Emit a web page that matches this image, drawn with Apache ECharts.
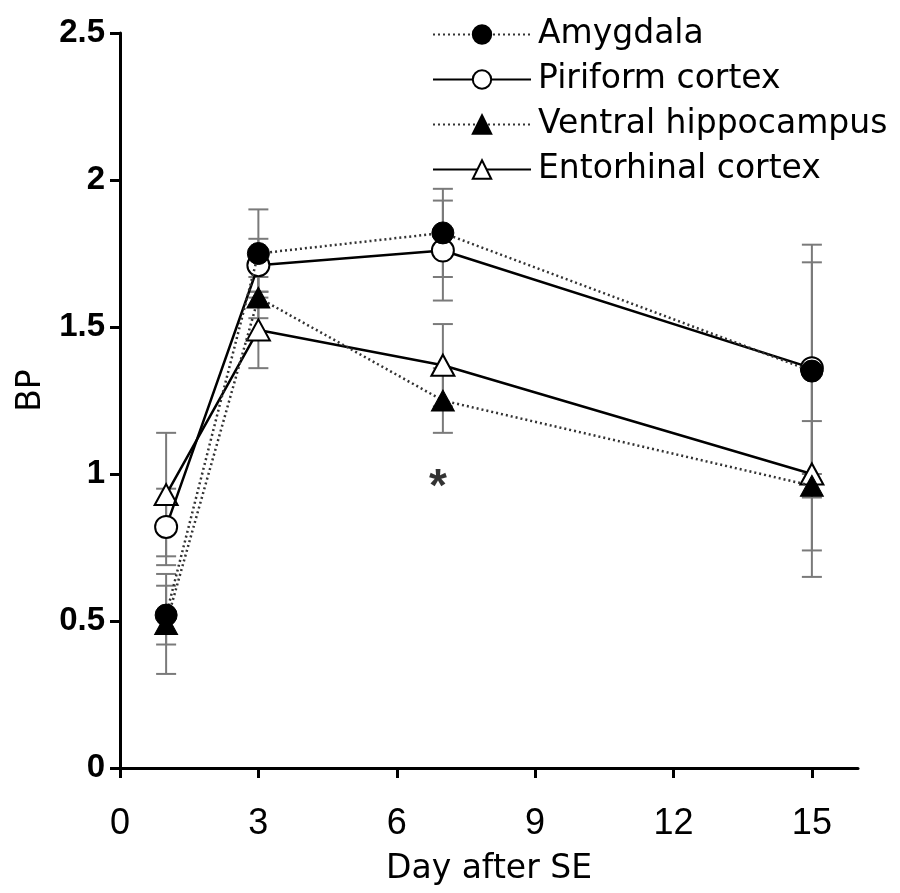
<!DOCTYPE html>
<html><head><meta charset="utf-8">
<script src="https://cdn.jsdelivr.net/npm/echarts@6/dist/echarts.min.js"></script>
<style>html,body{margin:0;padding:0;background:#fff}#c{width:900px;height:893px}</style>
</head><body><div id="c"></div>
<script>
const days = [1, 3, 7, 15];
const seriesNames = ['Amygdala', 'Piriform cortex', 'Ventral hippocampus', 'Entorhinal cortex'];
const amygdala = [0.52, 1.75, 1.82, 1.35];
const amygdalaErr = [0.10, 0.15, 0.15, 0.43];
const piriform = [0.82, 1.71, 1.76, 1.36];
const piriformErr = [0.13, 0.09, 0.17, 0.36];
const ventral = [0.49, 1.60, 1.25, 0.96];
const ventralErr = [0.17, 0.07, 0.11, 0.22];
const entorhinal = [0.93, 1.49, 1.37, 1.00];
const entorhinalErr = [0.21, 0.13, 0.14, 0.35];
const xTicks = [0, 3, 6, 9, 12, 15];
const yTicks = [0, 0.5, 1, 1.5, 2, 2.5];
const asterisk = [[7, 0.99]];

const FONT = 'DejaVu Sans';
const chart = echarts.init(document.getElementById('c'), null, {renderer: 'canvas'});

function pts(vals) { return days.map((d, i) => [d, vals[i]]); }
function errs(vals, e) { return days.map((d, i) => [d, vals[i] - e[i], vals[i] + e[i]]); }

function errRender(params, api) {
  const x = api.value(0), lo = api.value(1), hi = api.value(2);
  const pLo = api.coord([x, lo]), pHi = api.coord([x, hi]);
  const w = 10;
  const style = {stroke: '#7a7a7a', lineWidth: 2, fill: null};
  return {type: 'group', children: [
    {type: 'line', shape: {x1: pLo[0], y1: pLo[1], x2: pHi[0], y2: pHi[1]}, style: style},
    {type: 'line', shape: {x1: pLo[0] - w, y1: pLo[1], x2: pLo[0] + w, y2: pLo[1]}, style: style},
    {type: 'line', shape: {x1: pHi[0] - w, y1: pHi[1], x2: pHi[0] + w, y2: pHi[1]}, style: style}
  ]};
}

function errSeries(vals, e) {
  return {type: 'custom', renderItem: errRender, data: errs(vals, e), z: 1, silent: true,
    encode: {x: 0, y: [1, 2]}};
}

const dotted = {color: '#333', width: 2.5, type: [2, 3]};
const solid = {color: '#000', width: 2.5, type: 'solid'};

const option = {
  animation: false,
  backgroundColor: '#fff',
  grid: {left: 120, right: 42, top: 33, bottom: 125, containLabel: false},
  legend: {
    data: seriesNames,
    orient: 'vertical',
    left: 427, top: 13,
    itemWidth: 98, itemHeight: 23, itemGap: 12,
    textStyle: {fontFamily: FONT, fontSize: 33, color: '#000', padding: [0, 0, 0, 2]},
    selectedMode: false
  },
  xAxis: {
    type: 'value', min: 0, max: 16, interval: 3,
    name: 'Day after SE', nameLocation: 'middle', nameGap: 85,
    nameTextStyle: {fontFamily: FONT, fontSize: 33, color: '#000'},
    axisLine: {onZero: false, lineStyle: {color: '#000', width: 3}},
    axisTick: {show: true, length: 10, lineStyle: {color: '#000', width: 3}, customValues: xTicks},
    axisLabel: {fontFamily: 'Liberation Sans', fontSize: 36, color: '#000', margin: 38, customValues: xTicks},
    splitLine: {show: false}
  },
  yAxis: {
    type: 'value', min: 0, max: 2.5, interval: 0.5,
    name: 'BP', nameLocation: 'middle', nameGap: 71, nameRotate: 90,
    nameTextStyle: {fontFamily: FONT, fontSize: 33, color: '#000', padding: [0, 0, 0, 20]},
    axisLine: {onZero: false, lineStyle: {color: '#000', width: 3}},
    axisTick: {show: true, length: 10, lineStyle: {color: '#000', width: 3}, customValues: yTicks},
    axisLabel: {fontFamily: 'Liberation Sans', fontWeight: 'bold', fontSize: 33,
      color: '#000', margin: 15, customValues: yTicks, formatter: v => String(v)},
    splitLine: {show: false}
  },
  series: [
    errSeries(amygdala, amygdalaErr),
    errSeries(piriform, piriformErr),
    errSeries(ventral, ventralErr),
    errSeries(entorhinal, entorhinalErr),
    {name: seriesNames[3], type: 'line', data: pts(entorhinal), z: 3,
      symbol: 'triangle', symbolSize: [23, 21],
      itemStyle: {color: '#fff', borderColor: '#000', borderWidth: 2},
      lineStyle: solid},
    {name: seriesNames[1], type: 'line', data: pts(piriform), z: 4,
      symbol: 'circle', symbolSize: 22,
      itemStyle: {color: '#fff', borderColor: '#000', borderWidth: 2},
      lineStyle: solid},
    {name: seriesNames[2], type: 'line', data: pts(ventral), z: 5,
      symbol: 'triangle', symbolSize: [23, 21],
      itemStyle: {color: '#000', borderColor: '#000', borderWidth: 1},
      lineStyle: dotted},
    {name: seriesNames[0], type: 'line', data: pts(amygdala), z: 6,
      symbol: 'circle', symbolSize: 22,
      itemStyle: {color: '#000', borderColor: '#000', borderWidth: 1},
      lineStyle: dotted},
    {type: 'scatter', data: asterisk, symbolSize: 1, itemStyle: {color: 'transparent'},
      label: {show: true, position: 'inside', formatter: '*', fontFamily: 'Liberation Sans', fontWeight: 'bold',
        fontSize: 46, color: '#000', offset: [-5, 11]}, z: 7, silent: true}
  ]
};
chart.setOption(option);
</script></body></html>
